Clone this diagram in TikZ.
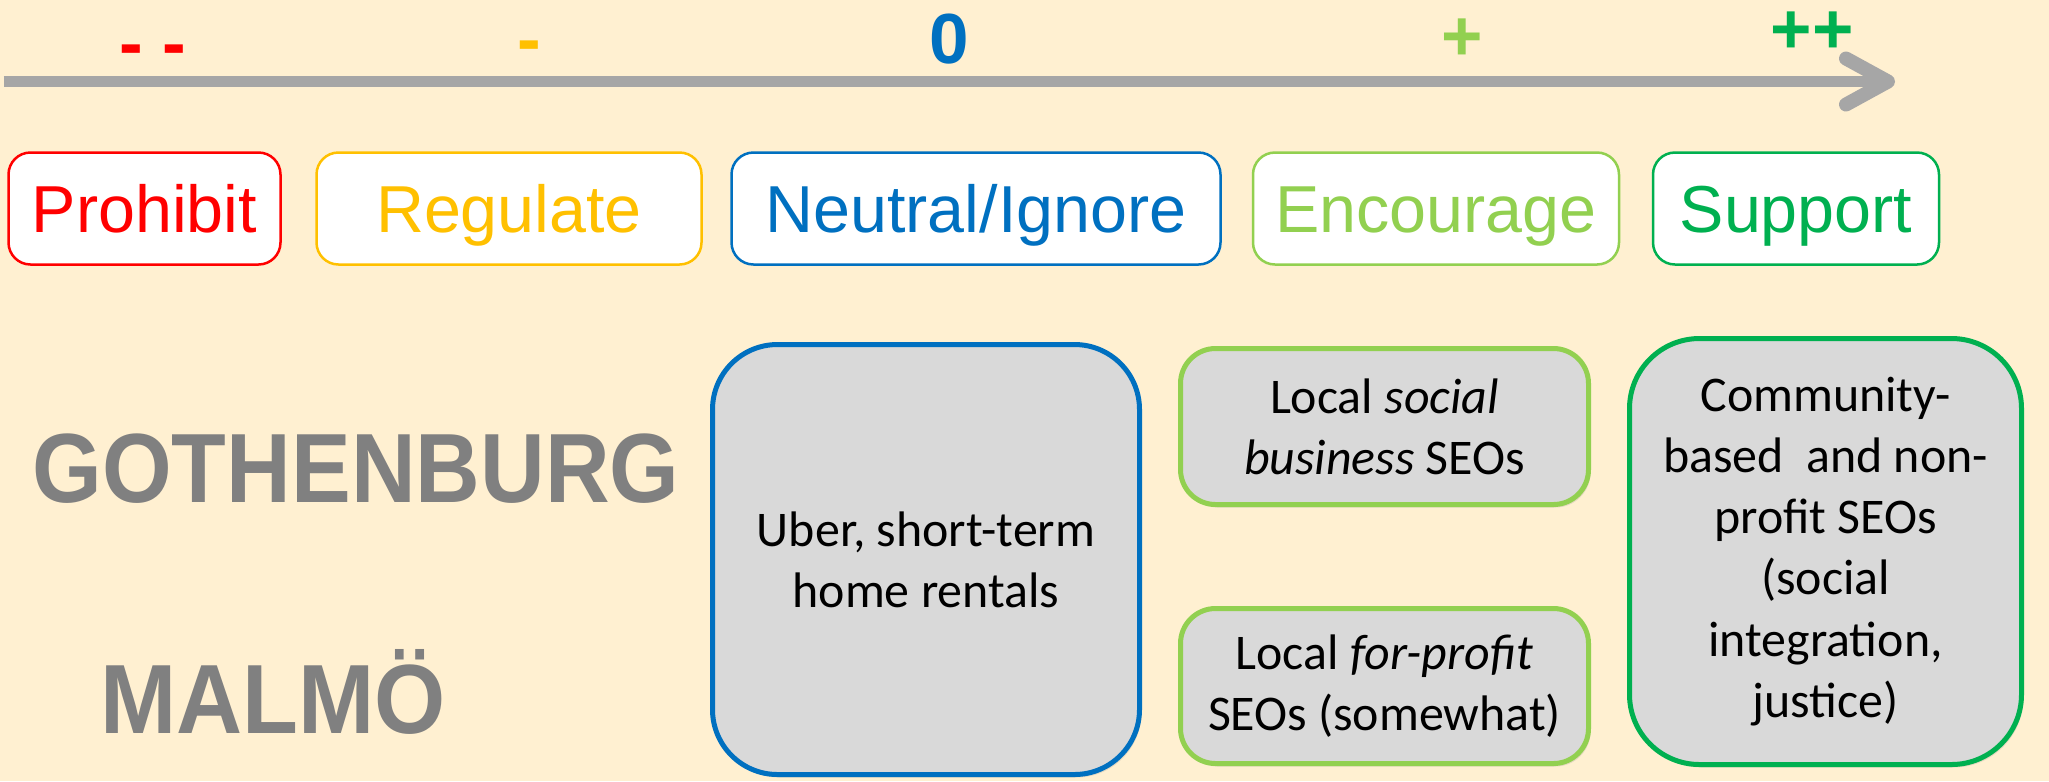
\documentclass[tikz,border=0pt]{standalone}
\usepackage{fontspec}
\setmainfont{Liberation Sans}
\newfontfamily\boxfont{Carlito}
\usepackage{tikz}
\usetikzlibrary{arrows.meta, positioning, shadows}
\usepackage{color}
\definecolor{bgpeach}{HTML}{FFF0D1}
\definecolor{prohibitRed}{HTML}{FF0000}
\definecolor{regulateGold}{HTML}{FFC000}
\definecolor{neutralBlue}{HTML}{0070C0}
\definecolor{encourageLime}{HTML}{92D050}
\definecolor{supportGreen}{HTML}{00B050}
\definecolor{cityGray}{HTML}{808080}
\definecolor{axisGray}{HTML}{A6A6A6}
\definecolor{boxGray}{HTML}{D9D9D9}
\tikzstyle{stance} = [rectangle, rounded corners=0.22cm, minimum height=1.12cm, inner sep=0pt, text height=0.476cm, text depth=0cm, text centered, line width=0.025cm, fill=white, font=\fontsize{18.9}{22}\selectfont]
\tikzstyle{sign} = [anchor=base, inner sep=0pt, font=\fontsize{20.2}{24}\selectfont\bfseries]
\tikzstyle{city} = [anchor=base, inner sep=0pt, text=cityGray, font=\fontsize{28}{32}\selectfont\bfseries]
\tikzstyle{group} = [rectangle, line width=0.05cm, fill=boxGray, align=center, inner sep=0pt, font=\boxfont\fontsize{14.2}{17.4}\selectfont, drop shadow={shadow xshift=0.02cm, shadow yshift=-0.03cm, opacity=0.2}]
\tikzstyle{axis} = [line width=0.11cm, draw=axisGray, -{Straight Barb[length=0.42cm, width=0.46cm, line width=0.14cm, round]}]

\begin{document}
\begin{tikzpicture}[node distance=2cm]
        \fill[bgpeach] (0,0) rectangle (20.49,-7.81);
        \useasboundingbox (0,0) rectangle (20.49,-7.81);

        % Scale
        \coordinate (low) at (0.04,-0.815);
        \coordinate (high) at (18.95,-0.815);
        \draw [axis] (low) -- (high);
        \node (signProhibit) [sign, text=prohibitRed] at (1.53,-0.67) {- -};
        \node (signRegulate) [sign, text=regulateGold] at (5.29,-0.63) {-};
        \node (signNeutral) [sign, text=neutralBlue] at (9.49,-0.63) {0};
        \node (signEncourage) [sign, text=encourageLime] at (14.62,-0.60) {+};
        \node (signSupport) [sign, text=supportGreen] at (18.12,-0.53) {++};

        % Stances
        \node (prohibit) [stance, draw=prohibitRed, text=prohibitRed, minimum width=2.72cm] at (1.445,-2.085) {Prohibit};
        \node (regulate) [stance, draw=regulateGold, text=regulateGold, minimum width=3.85cm, right of=prohibit, xshift=1.645cm] {Regulate};
        \node (neutral) [stance, draw=neutralBlue, text=neutralBlue, minimum width=4.89cm, right of=regulate, xshift=2.67cm] {Neutral/Ignore};
        \node (encourage) [stance, draw=encourageLime, text=encourageLime, minimum width=3.66cm, right of=neutral, xshift=2.60cm] {Encourage};
        \node (support) [stance, draw=supportGreen, text=supportGreen, minimum width=2.86cm, right of=encourage, xshift=1.60cm] {Support};

        % Cities
        \node (gothenburg) [city] at (3.56,-5.02) {\scalebox{0.91}[1]{GOTHENBURG}};
        \node (malmo) [city] at (2.73,-7.33) {\scalebox{0.93}[1]{MALMÖ}};

        % Groups
        \node (uber) [group, draw=neutralBlue, rounded corners=0.65cm, minimum width=4.27cm, minimum height=4.30cm, below of=neutral, xshift=-0.5cm, yshift=-1.51cm] {Uber, short-term\\home rentals};
        \node (social) [group, draw=encourageLime, rounded corners=0.35cm, minimum width=4.08cm, minimum height=1.56cm, right of=uber, xshift=2.585cm, yshift=1.33cm] {Local \textit{social}\\\textit{business} SEOs};
        \node (forprofit) [group, draw=encourageLime, rounded corners=0.35cm, minimum width=4.08cm, minimum height=1.55cm, below of=social, yshift=-0.595cm] {Local \textit{for-profit}\\SEOs (somewhat)};
        \node (community) [group, draw=supportGreen, rounded corners=0.70cm, minimum width=3.92cm, minimum height=4.26cm, right of=social, xshift=2.41cm, yshift=-1.25cm] {Community-\\based\ \ and non-\\profit SEOs\\(social\\integration,\\justice)};
    \end{tikzpicture}
\end{document}
